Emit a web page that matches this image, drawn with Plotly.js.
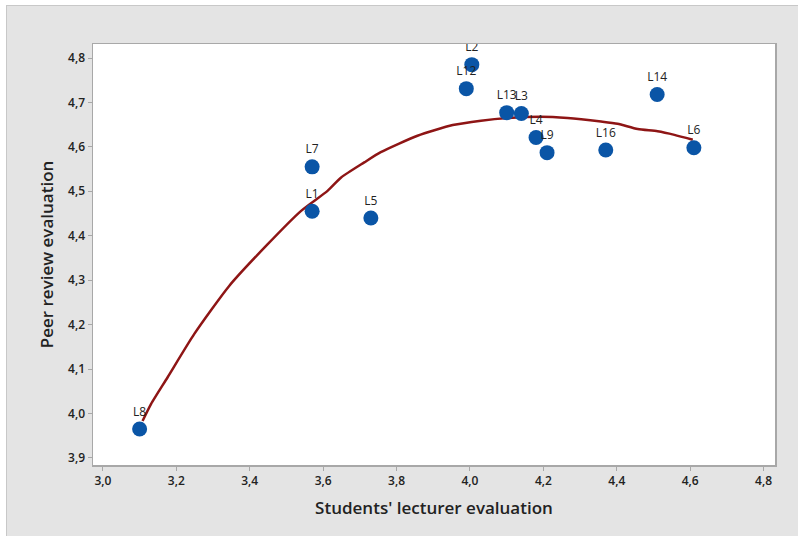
<!DOCTYPE html>
<html><head><meta charset="utf-8">
<script src="https://cdn.plot.ly/plotly-3.0.1.min.js"></script>
<style>
html,body{margin:0;padding:0;background:#fff;}
#chart{position:absolute;left:6px;top:5px;width:792px;height:531px;border-left:1px solid #c8c8c8;border-top:1px solid #c8c8c8;box-sizing:border-box;}
</style></head>
<body><div id="chart"></div>
<script>
const labels = ["L8","L7","L1","L5","L12","L2","L13","L3","L4","L9","L16","L14","L6"];
const studentEval = [3.10,3.57,3.57,3.73,3.99,4.005,4.10,4.14,4.18,4.21,4.37,4.51,4.61];
const peerEval = [3.965,4.555,4.455,4.44,4.731,4.785,4.677,4.675,4.621,4.587,4.593,4.718,4.598];
const fitX = [3.108,3.131,3.176,3.249,3.344,3.449,3.540,3.612,3.649,3.712,3.757,3.857,3.953,4.030,4.103,4.193,4.266,4.357,4.402,4.457,4.511,4.557,4.607];
const fitY = [3.983,4.021,4.081,4.179,4.287,4.381,4.456,4.501,4.531,4.565,4.588,4.625,4.649,4.659,4.665,4.668,4.665,4.657,4.652,4.640,4.635,4.627,4.616];
const xTicks = [3.0,3.2,3.4,3.6,3.8,4.0,4.2,4.4,4.6,4.8];
const yTicks = [3.9,4.0,4.1,4.2,4.3,4.4,4.5,4.6,4.7,4.8];

const traces = [
 {x: fitX, y: fitY, mode:'lines', line:{color:'#8e1515', width:2.5, shape:'spline', smoothing:0.6}, hoverinfo:'skip'},
 {x: studentEval, y: peerEval, mode:'markers+text', text: labels, textposition:'top center',
  textfont:{family:'Open Sans, sans-serif', size:12, color:'#222'},
  marker:{color:'#0a55a6', size:15}}
];
const axisCommon = {showgrid:false, zeroline:false, showline:true, mirror:true, linecolor:'#a8a8a8', linewidth:1.5,
  ticks:'outside', ticklen:4, tickcolor:'#a8a8a8', tickfont:{family:'Open Sans, sans-serif', size:12, color:'#222', weight:600}, tickformat:'.1f'};
const layout = {
  width:792, height:531, paper_bgcolor:'#e4e4e4', plot_bgcolor:'#ffffff', showlegend:false,
  separators:',.',
  margin:{l:86, r:24, t:38, b:72},
  xaxis: Object.assign({}, axisCommon, {range:[2.973,4.831], tickvals:xTicks,
    title:{text:"Students' lecturer evaluation", font:{family:'Open Sans, sans-serif', size:17, color:'#222', weight:600}, standoff:14}}),
  yaxis: Object.assign({}, axisCommon, {range:[3.884,4.8315], tickvals:yTicks,
    title:{text:"Peer review evaluation", font:{family:'Open Sans, sans-serif', size:17, color:'#222', weight:600}, standoff:10}})
};
Plotly.newPlot('chart', traces, layout, {displayModeBar:false, staticPlot:true});
</script></body></html>
